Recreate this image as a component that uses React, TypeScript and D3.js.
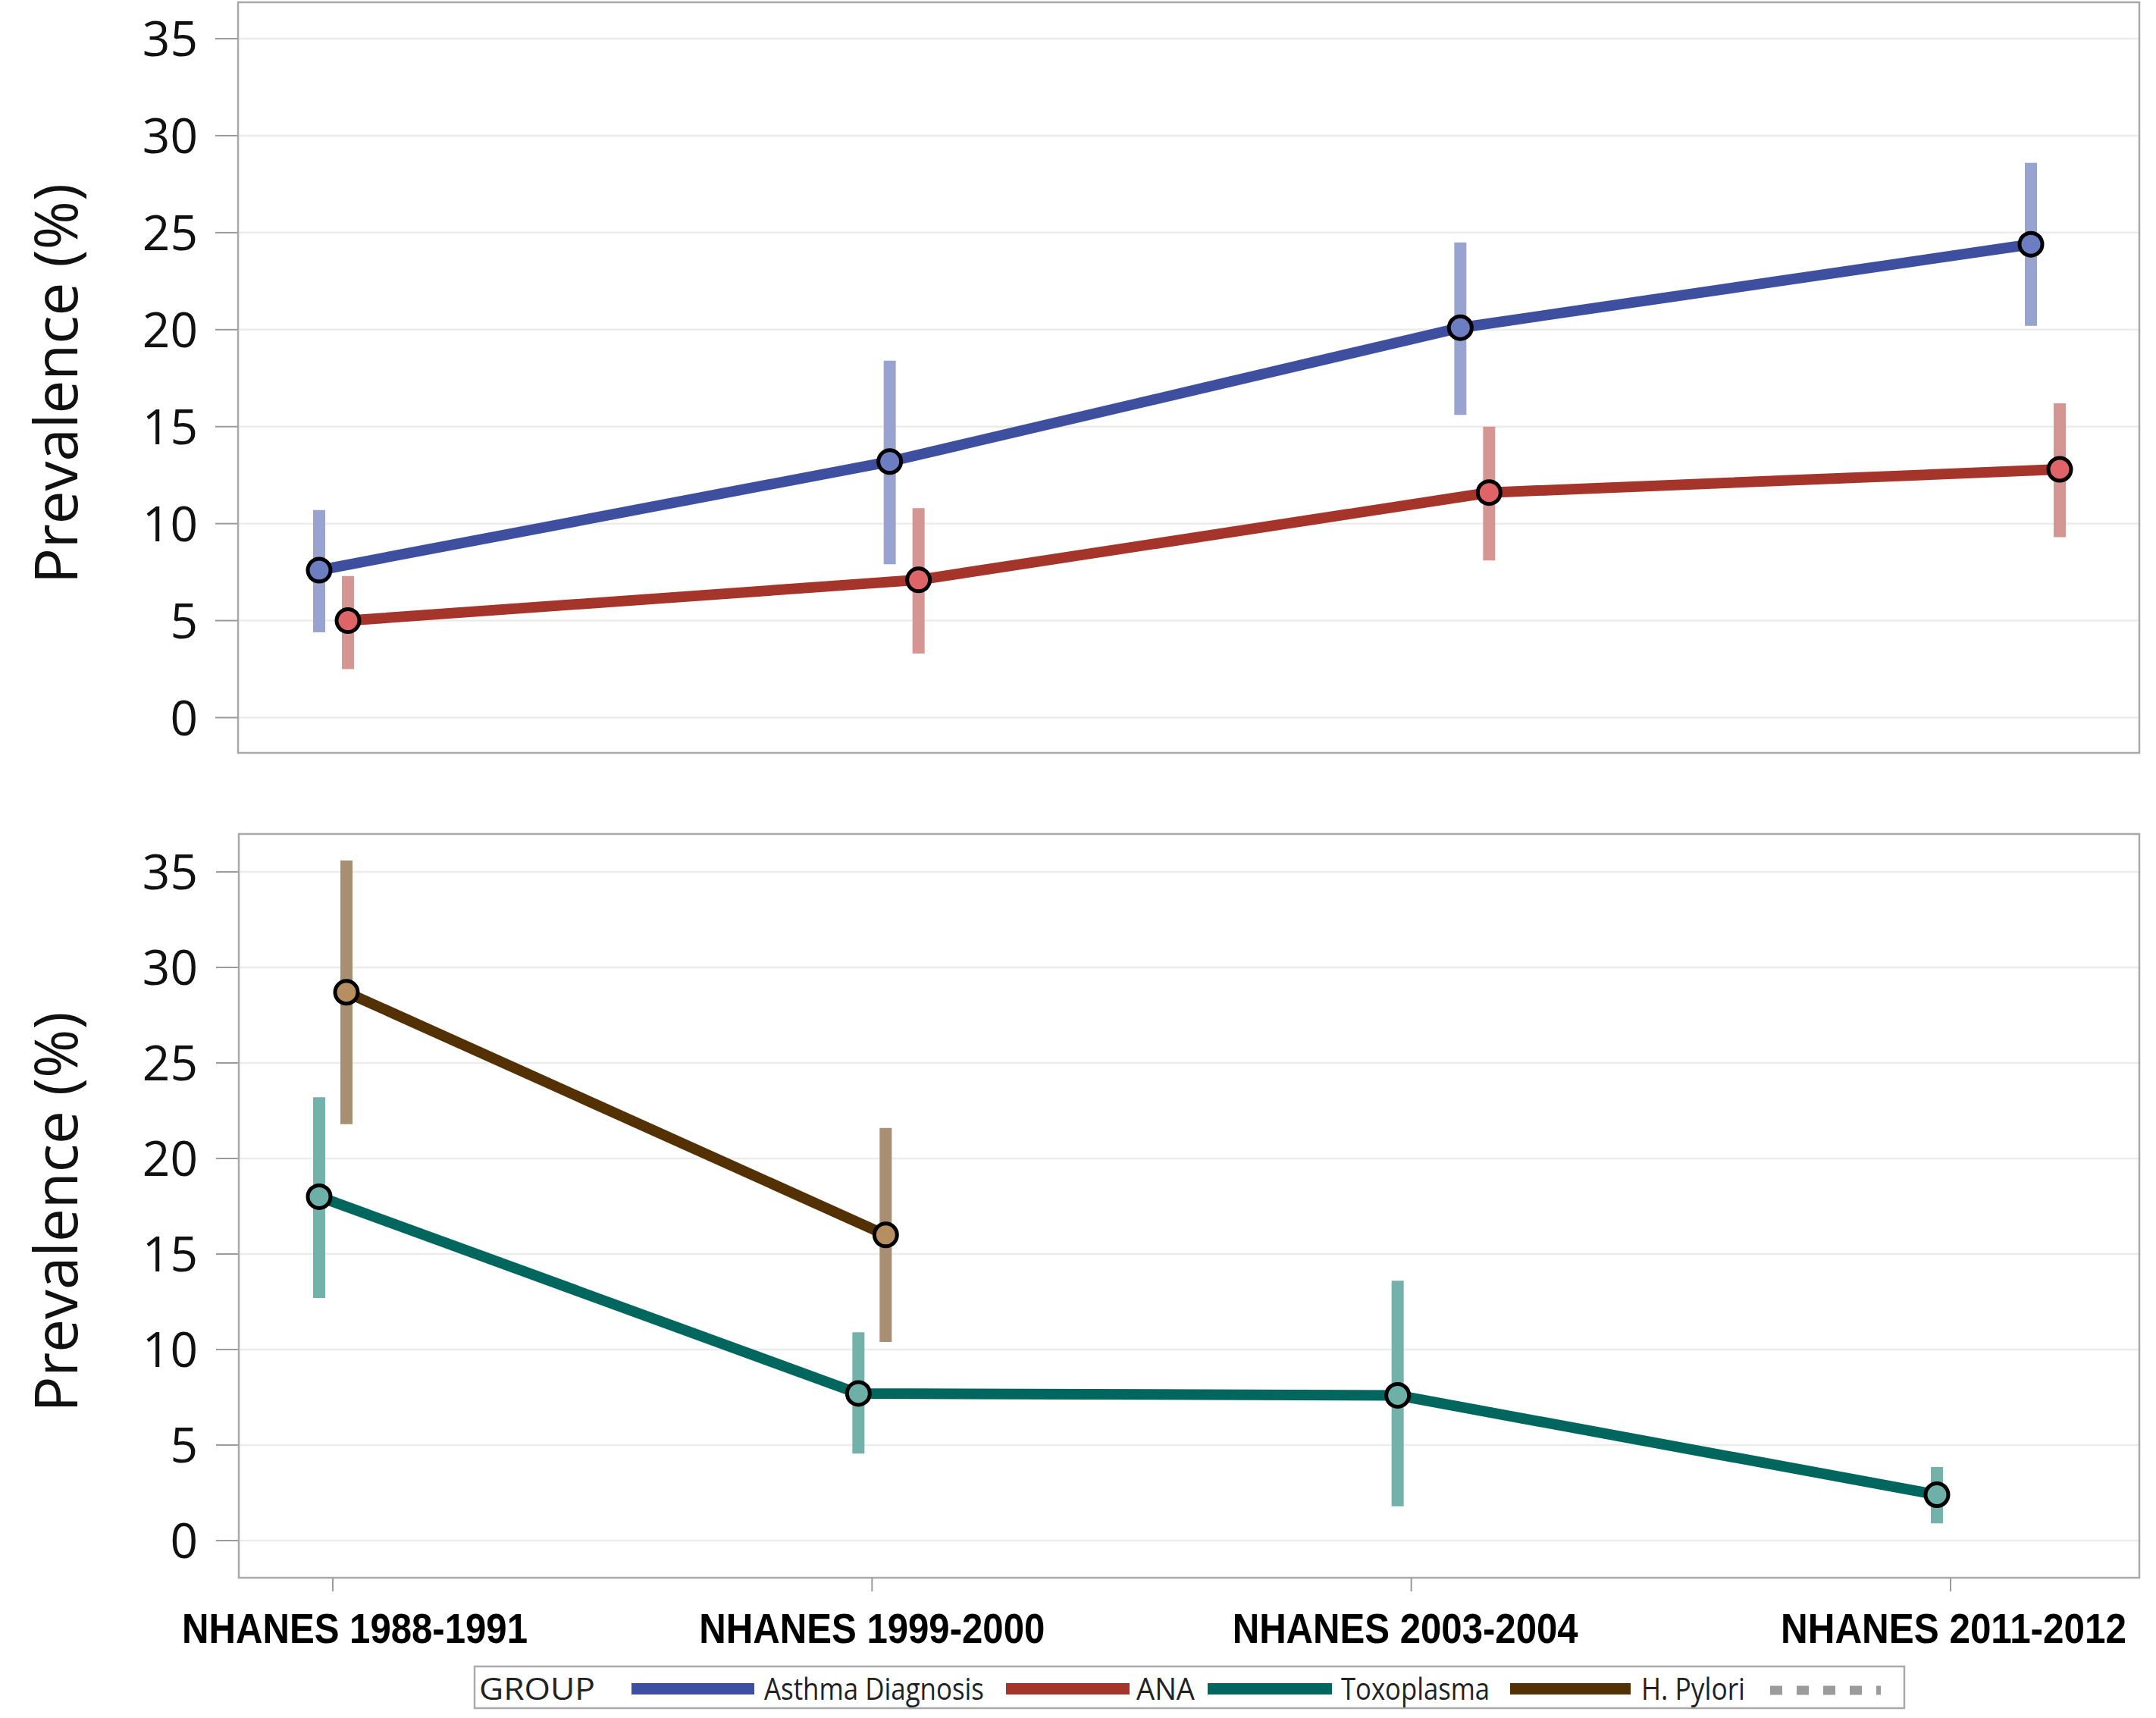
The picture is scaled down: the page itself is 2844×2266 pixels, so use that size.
import React from "react";
import * as d3 from "d3";

const categories = ["NHANES 1988-1991", "NHANES 1999-2000", "NHANES 2003-2004", "NHANES 2011-2012"];
const yTicks = [0, 5, 10, 15, 20, 25, 30, 35];

const asthmaMean = [7.6, 13.2, 20.1, 24.4];
const asthmaLow = [4.4, 7.9, 15.6, 20.2];
const asthmaHigh = [10.7, 18.4, 24.5, 28.6];

const anaMean = [5.0, 7.1, 11.6, 12.8];
const anaLow = [2.5, 3.3, 8.1, 9.3];
const anaHigh = [7.3, 10.8, 15.0, 16.2];

const toxoMean = [18.0, 7.7, 7.6, 2.4];
const toxoLow = [12.7, 4.55, 1.8, 0.9];
const toxoHigh = [23.2, 10.9, 13.6, 3.85];

const pyloriMean = [28.7, 16.0, null, null];
const pyloriLow = [21.8, 10.4, null, null];
const pyloriHigh = [35.6, 21.6, null, null];

const legendLabels = ["Asthma Diagnosis", "ANA", "Toxoplasma", "H. Pylori"];

type Series = {
  name: string;
  mean: (number | null)[];
  low: (number | null)[];
  high: (number | null)[];
  line: string;
  err: string;
  fill: string;
  offset: number;
};

const FONT = "'Open Sans', 'Noto Sans', sans-serif";

function Panel({ top, bottom, left, right, xRange, yRange, series, title }: any) {
  const x = d3.scalePoint<string>().domain(categories).range(xRange);
  const y = d3.scaleLinear().domain([0, 35]).range(yRange);
  const midY = (top + bottom) / 2 + 8;
  return (
    <g>
      <rect x={left} y={top} width={right - left} height={bottom - top} fill="#fff" stroke="none" />
      {yTicks.map((t) => (
        <g key={t}>
          <line x1={left} x2={right} y1={y(t)} y2={y(t)} stroke="#ececec" strokeWidth={2.5} />
          <line x1={left - 30} x2={left} y1={y(t)} y2={y(t)} stroke="#9a9a9a" strokeWidth={2} />
          <text x={261} y={y(t)} dy="0.36em" textAnchor="end" fontSize={64} fontFamily={FONT} fill="#111">
            {t}
          </text>
        </g>
      ))}
      <rect x={left} y={top} width={right - left} height={bottom - top} fill="none" stroke="#a9a9a9" strokeWidth={2.5} />
      <text
        transform={`translate(102, ${midY}) rotate(-90)`}
        textAnchor="middle"
        fontSize={78}
        fontFamily={FONT}
        fill="#111"
      >
        {title}
      </text>
      {series.map((s: Series) =>
        categories.map((c, i) =>
          s.mean[i] == null ? null : (
            <line
              key={s.name + "e" + i}
              x1={(x(c) as number) + s.offset}
              x2={(x(c) as number) + s.offset}
              y1={y(s.low[i] as number)}
              y2={y(s.high[i] as number)}
              stroke={s.err}
              strokeWidth={16}
            />
          )
        )
      )}
      {series.map((s: Series) => {
        const pts = categories
          .map((c, i) => ({ c, v: s.mean[i] }))
          .filter((d) => d.v != null) as { c: string; v: number }[];
        const path = d3
          .line<{ c: string; v: number }>()
          .x((d) => (x(d.c) as number) + s.offset)
          .y((d) => y(d.v))(pts);
        return <path key={s.name + "l"} d={path || ""} fill="none" stroke={s.line} strokeWidth={14} strokeLinejoin="round" />;
      })}
      {series.map((s: Series) =>
        categories.map((c, i) =>
          s.mean[i] == null ? null : (
            <circle
              key={s.name + "m" + i}
              cx={(x(c) as number) + s.offset}
              cy={y(s.mean[i] as number)}
              r={15}
              fill={s.fill}
              stroke="#000"
              strokeWidth={5}
            />
          )
        )
      )}
    </g>
  );
}

export default function App() {
  const topSeries: Series[] = [
    { name: legendLabels[0], mean: asthmaMean, low: asthmaLow, high: asthmaHigh, line: "#3f4fa0", err: "#98a3cf", fill: "#6c7dc1", offset: -19 },
    { name: legendLabels[1], mean: anaMean, low: anaLow, high: anaHigh, line: "#a5342b", err: "#d59593", fill: "#de6467", offset: 19 },
  ];
  const bottomSeries: Series[] = [
    { name: legendLabels[2], mean: toxoMean, low: toxoLow, high: toxoHigh, line: "#01665e", err: "#72b2aa", fill: "#6cb0a8", offset: -18 },
    { name: legendLabels[3], mean: pyloriMean, low: pyloriLow, high: pyloriHigh, line: "#543005", err: "#a88f72", fill: "#b58f62", offset: 18 },
  ];
  const xBottom = d3.scalePoint<string>().domain(categories).range([439, 2573]);
  const labelShift = [0, 0, -8, 4];

  const legendItems = [
    { label: legendLabels[0], color: "#3f4fa0", x0: 833, x1: 995, tx: 1008, tw: 290 },
    { label: legendLabels[1], color: "#a5342b", x0: 1327, x1: 1490, tx: 1499, tw: 77 },
    { label: legendLabels[2], color: "#01665e", x0: 1593, x1: 1757, tx: 1769, tw: 196 },
    { label: legendLabels[3], color: "#543005", x0: 1992, x1: 2151, tx: 2165, tw: 137 },
  ];

  return (
    <svg
      width={2844}
      height={2266}
      viewBox="0 0 2844 2266"
      style={{ position: "absolute", left: 0, top: 0, display: "block", background: "#fff" }}
    >
      <rect x={0} y={0} width={2844} height={2266} fill="#fff" />
      <Panel
        top={3}
        bottom={993}
        left={314}
        right={2822}
        xRange={[440, 2698]}
        yRange={[946.5, 51]}
        series={topSeries}
        title="Prevalence (%)"
      />
      <Panel
        top={1100}
        bottom={2081}
        left={315}
        right={2822}
        xRange={[439, 2573]}
        yRange={[2032, 1150]}
        series={bottomSeries}
        title="Prevalence (%)"
      />
      {categories.map((c, i) => {
        const cx = xBottom(c) as number;
        const lx = Math.max(cx + labelShift[i], 240 + 228);
        return (
          <g key={c}>
            <line x1={cx} x2={cx} y1={2081} y2={2099} stroke="#9a9a9a" strokeWidth={2} />
            <text
              x={lx}
              y={2167}
              textAnchor="middle"
              fontSize={55}
              fontWeight="bold"
              fontFamily="'Liberation Sans', Arial, sans-serif"
              textLength={456}
              lengthAdjust="spacingAndGlyphs"
              fill="#000"
            >
              {c}
            </text>
          </g>
        );
      })}
      <rect x={626} y={2198} width={1886} height={55} fill="#fff" stroke="#aaaaaa" strokeWidth={2.5} />
      <text x={632} y={2242} fontSize={40} fontFamily={FONT} fill="#222" textLength={153} lengthAdjust="spacingAndGlyphs">
        GROUP
      </text>
      {legendItems.map((it) => (
        <g key={it.label}>
          <line x1={it.x0} x2={it.x1} y1={2227.5} y2={2227.5} stroke={it.color} strokeWidth={15} />
          <text
            x={it.tx}
            y={2242}
            fontSize={40}
            fontFamily={FONT}
            fill="#222"
            textLength={it.tw}
            lengthAdjust="spacingAndGlyphs"
          >
            {it.label}
          </text>
        </g>
      ))}
      <line x1={2335} x2={2481} y1={2229.5} y2={2229.5} stroke="#9b9b9b" strokeWidth={12} strokeDasharray="16,19" />
    </svg>
  );
}
